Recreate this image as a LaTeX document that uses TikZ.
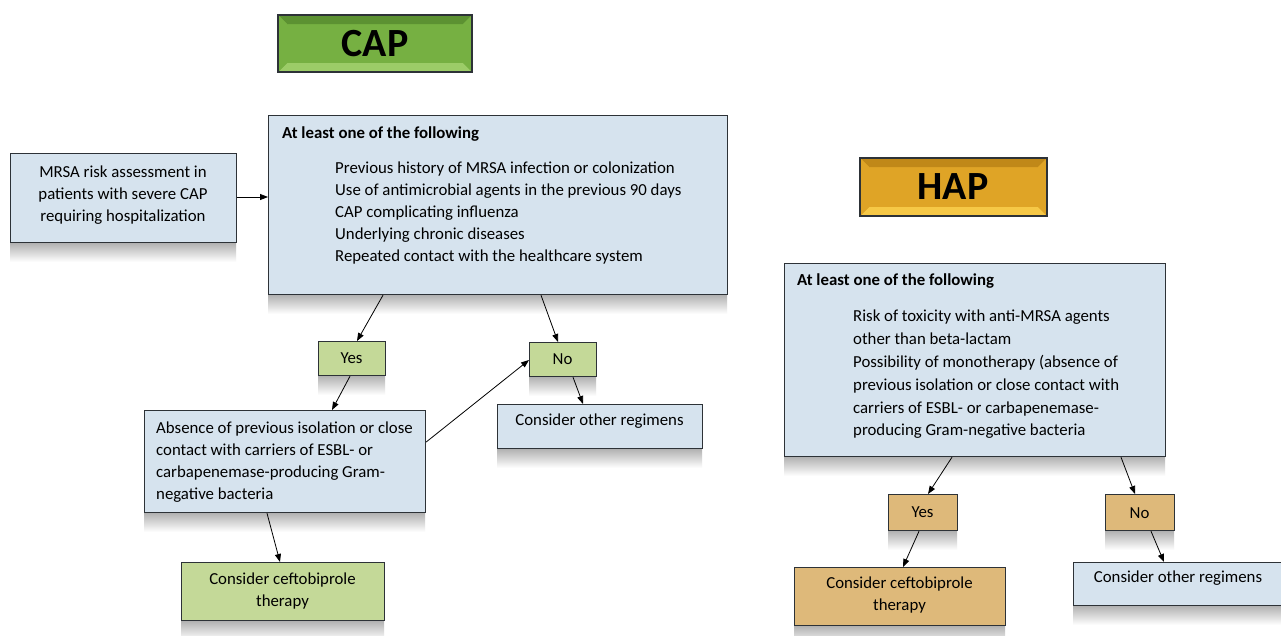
\documentclass[tikz,border=0pt]{standalone}
\usepackage{fontspec}
\setmainfont{Carlito}
\usetikzlibrary{arrows.meta}
\definecolor{boxblue}{RGB}{214,227,238}
\definecolor{boxgreen}{RGB}{196,217,152}
\definecolor{boxtan}{RGB}{222,185,122}
\definecolor{capbase}{RGB}{118,176,66}
\definecolor{caplight}{RGB}{156,204,104}
\definecolor{capdark}{RGB}{92,145,50}
\definecolor{hapbase}{RGB}{223,164,38}
\definecolor{haplight}{RGB}{246,200,70}
\definecolor{hapdark}{RGB}{192,136,24}
\definecolor{edge}{RGB}{45,50,55}
\tikzset{
  x=1pt, y=-1pt,
  boxbase/.style={draw=edge, line width=1.2pt, anchor=north west, inner sep=0pt},
  bluebox/.style={boxbase, fill=boxblue},
  greenbox/.style={boxbase, fill=boxgreen},
  tanbox/.style={boxbase, fill=boxtan},
  txt/.style={font=\fontsize{16.8}{22}\selectfont, inner sep=0pt},
  arr/.style={-{Triangle[length=8pt,width=6pt]}, line width=0.8pt, draw=black},
}
\newcommand{\shadowbar}[3]{\shade[top color=black!32, bottom color=white] (#1,#3) rectangle (#2,#3+20);}
\newcommand{\bevelbox}[8]{%
  \fill[#5] (#1,#2) rectangle (#3,#4);
  \fill[#6] (#1,#2) -- (#3,#2) -- (#3-9,#2+9) -- (#1+9,#2+9) -- cycle;
  \fill[#7] (#1,#4) -- (#3,#4) -- (#3-9,#4-9) -- (#1+9,#4-9) -- cycle;
  \fill[#8] (#1,#2) -- (#1+9,#2+9) -- (#1+9,#4-9) -- (#1,#4) -- cycle;
  \fill[#8] (#3,#2) -- (#3-9,#2+9) -- (#3-9,#4-9) -- (#3,#4) -- cycle;
  \draw[edge, line width=1.4pt] (#1,#2) rectangle (#3,#4);
}
\begin{document}
\begin{tikzpicture}
\useasboundingbox (0,0) rectangle (1281,635);
\fill[white] (0,0) rectangle (1281,635);

% shadows
\shadowbar{10}{236}{242}
\shadowbar{268}{727}{294}
\shadowbar{318}{385}{375}
\shadowbar{529}{596}{376}
\shadowbar{144}{425}{512}
\shadowbar{497}{702}{448}
\shadowbar{181}{384}{620}
\shadowbar{784}{1165}{456}
\shadowbar{888}{957}{530}
\shadowbar{1105}{1174}{530}
\shadowbar{794}{1005}{625}
\shadowbar{1073}{1281}{605}

% headers
\bevelbox{278}{15}{472}{72}{capbase}{capdark}{caplight}{capbase}
\node[font=\fontsize{40}{42}\selectfont\bfseries, inner sep=0pt] (captitle) at (375,44) {CAP};
\bevelbox{860}{158}{1047}{216}{hapbase}{hapdark}{haplight}{hapbase}
\node[font=\fontsize{40}{42}\selectfont\bfseries, inner sep=0pt] (haptitle) at (953,187) {HAP};

% CAP side
\node[bluebox, minimum width=226pt, minimum height=89pt] (mrsa) at (10,153) {};
\node[txt, align=center] (mrsatxt) at (123,195) {MRSA risk assessment in\\patients with severe CAP\\requiring hospitalization};

\node[bluebox, minimum width=459pt, minimum height=179pt] (capq) at (268,115) {};
\node[txt, anchor=base west, font=\fontsize{16.8}{22}\selectfont\bfseries] (capqtitle) at (282,138) {At least one of the following};
\node[txt, anchor=north west, align=left] (capqlist) at (335,162) {Previous history of MRSA infection or colonization\\Use of antimicrobial agents in the previous 90 days\\CAP complicating influenza\\Underlying chronic diseases\\Repeated contact with the healthcare system};

\node[greenbox, minimum width=67pt, minimum height=34pt] (capyes) at (318,341) {};
\node[txt] (capyestxt) at (351.5,358) {Yes};
\node[greenbox, minimum width=67pt, minimum height=34pt] (capno) at (529,342) {};
\node[txt] (capnotxt) at (562.5,359) {No};

\node[bluebox, minimum width=281pt, minimum height=102pt] (absence) at (144,410) {};
\node[txt, anchor=north west, align=left] (absencetxt) at (156,422) {Absence of previous isolation or close\\contact with carriers of ESBL- or\\carbapenemase-producing Gram-\\negative bacteria};

\node[bluebox, minimum width=205pt, minimum height=44pt] (capother) at (497,404) {};
\node[txt] (capothertxt) at (599.5,421) {Consider other regimens};

\node[greenbox, minimum width=203pt, minimum height=58pt] (capceft) at (181,562) {};
\node[txt, align=center] (capcefttxt) at (282.5,591) {Consider ceftobiprole\\therapy};

% HAP side
\node[bluebox, minimum width=381pt, minimum height=193pt] (hapq) at (784,263) {};
\node[txt, anchor=base west, font=\fontsize{16.8}{22}\selectfont\bfseries] (hapqtitle) at (797,285) {At least one of the following};
\node[txt, anchor=north west, align=left, font=\fontsize{16.8}{22.8}\selectfont] (hapqlist) at (853,310) {Risk of toxicity with anti-MRSA agents\\other than beta-lactam\\Possibility of monotherapy (absence of\\previous isolation or close contact with\\carriers of ESBL- or carbapenemase-\\producing Gram-negative bacteria};

\node[tanbox, minimum width=69pt, minimum height=36pt] (hapyes) at (888,494) {};
\node[txt] (hapyestxt) at (922.5,512) {Yes};
\node[tanbox, minimum width=69pt, minimum height=36pt] (hapno) at (1105,494) {};
\node[txt] (hapnotxt) at (1139.5,513) {No};

\node[tanbox, minimum width=211pt, minimum height=58pt] (hapceft) at (794,567) {};
\node[txt, align=center] (hapcefttxt) at (899.5,595) {Consider ceftobiprole\\therapy};

\node[bluebox, minimum width=210pt, minimum height=43pt] (hapother) at (1073,562) {};
\node[txt] (hapothertxt) at (1178,578) {Consider other regimens};

% connectors
\draw[arr] (mrsa.east |- 0,197) -- (capq.west |- 0,197);
\draw[arr] (capq.south west) ++(115,0) coordinate (c1) (c1) -- (capyes.north west -| 357,0);
\draw[arr] (capq.south west) ++(273,0) coordinate (c2) (c2) -- (capno.north west -| 558,0);
\draw[arr] (capyes.south west) ++(32,0) coordinate (c3) (c3) -- (absence.north west -| 332,0);
\draw[arr] (absence.east |- 0,442) -- (capno.west |- 0,360);
\draw[arr] (capno.south west) ++(44,0) coordinate (c4) (c4) -- (capother.north west -| 583,0);
\draw[arr] (absence.south west) ++(123,0) coordinate (c5) (c5) -- (capceft.north west -| 280,0);

\draw[arr] (hapq.south west) ++(168,0) coordinate (h1) (h1) -- (hapyes.north west -| 928,0);
\draw[arr] (hapq.south west) ++(337,0) coordinate (h2) (h2) -- (hapno.north west -| 1135,0);
\draw[arr] (hapyes.south west) ++(31,0) coordinate (h3) (h3) -- (hapceft.north west -| 903,0);
\draw[arr] (hapno.south west) ++(46,0) coordinate (h4) (h4) -- (hapother.north west -| 1164,0);
\end{tikzpicture}
\end{document}
